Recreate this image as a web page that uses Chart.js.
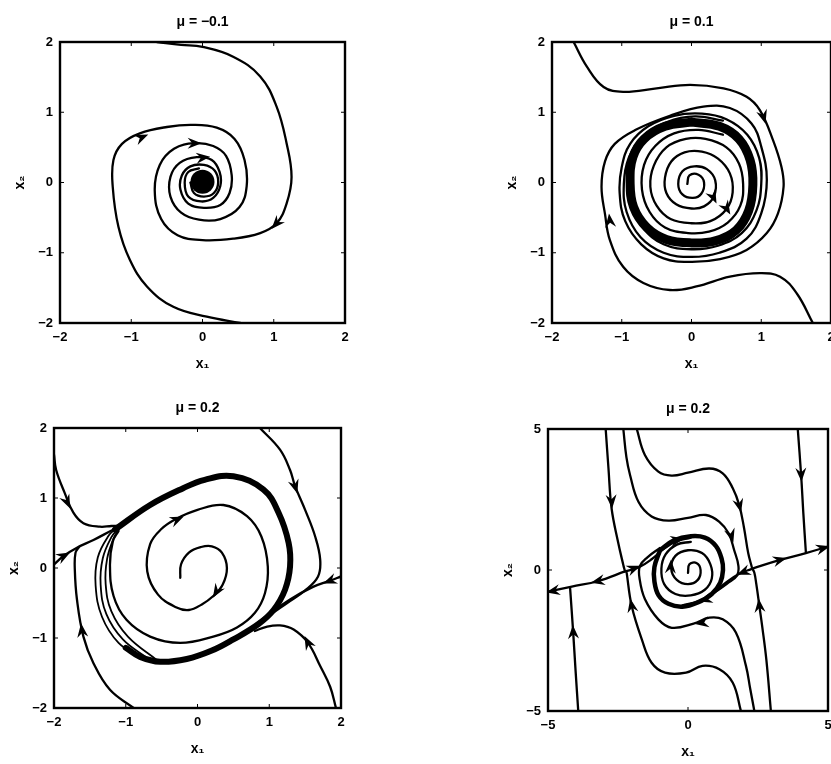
<!DOCTYPE html>
<html><head><meta charset="utf-8">
<script src="https://cdn.jsdelivr.net/npm/chart.js@4.4.1/dist/chart.umd.min.js"></script>
<style>
html,body{margin:0;padding:0;background:#fff;width:831px;height:764px;overflow:hidden;position:relative}
canvas{position:absolute}
</style></head><body>
<canvas id="c1" width="360" height="379" style="left:0px;top:0px"></canvas>
<canvas id="c2" width="354" height="379" style="left:492px;top:0px"></canvas>
<canvas id="c3" width="362" height="378" style="left:-6px;top:386px"></canvas>
<canvas id="c4" width="355" height="380" style="left:488px;top:387px"></canvas>
<script>
// ---------- tick labels ----------
const ticksSmall = [-2, -1, 0, 1, 2];
const ticksLarge = [-5, 0, 5];
const titles = ['\u03bc = \u22120.1', '\u03bc = 0.1', '\u03bc = 0.2', '\u03bc = 0.2'];

// ---------- panel 1 : mu = -0.1 ----------
const p1TrajA = [[-0.64,2.0],[-0.3,1.96],[0.0,1.93],[0.43,1.79],[0.81,1.51],[1.04,1.08],[1.18,0.56],[1.25,0.08],[1.18,-0.30],[1.04,-0.58],[0.81,-0.72],[0.43,-0.80],[0.0,-0.82],[-0.35,-0.75],[-0.58,-0.52],[-0.67,-0.12],[-0.6,0.25],[-0.4,0.48],[-0.11,0.56],[0.15,0.52],[0.33,0.38],[0.41,0.1],[0.38,-0.15],[0.25,-0.32],[0.02,-0.36],[-0.2,-0.3],[-0.31,-0.1],[-0.29,0.1],[-0.17,0.23],[0.02,0.25],[0.17,0.17],[0.22,0.0],[0.16,-0.15],[0.02,-0.2],[-0.12,-0.15],[-0.17,0.0]];
const p1TrajB = [[0.53,-2.0],[0.06,-1.91],[-0.41,-1.77],[-0.78,-1.48],[-1.02,-1.10],[-1.18,-0.63],[-1.26,-0.06],[-1.25,0.32],[-1.13,0.55],[-0.88,0.70],[-0.5,0.79],[-0.15,0.82],[0.2,0.78],[0.45,0.62],[0.59,0.32],[0.62,-0.05],[0.52,-0.35],[0.25,-0.52],[-0.05,-0.53],[-0.3,-0.43],[-0.45,-0.2],[-0.45,0.08],[-0.32,0.28],[-0.08,0.36],[0.13,0.32],[0.24,0.15],[0.25,-0.05],[0.15,-0.22],[-0.02,-0.27],[-0.2,-0.2],[-0.25,0.0],[-0.2,0.15],[-0.05,0.2]];
const p1Core = [[0.0,0.01]];
const p1Arrows = [[-0.86,0.64,1,0.45],[-0.12,0.56,1,0],[0.0,0.355,1,0.1],[1.04,-0.58,-0.7,-0.8]];

// ---------- panel 2 : mu = 0.1 ----------
const p2T1 = [[-1.69,2.0],[-1.50,1.65],[-1.26,1.36],[-0.98,1.29],[-0.50,1.34],[-0.02,1.39],[0.46,1.34],[0.79,1.22],[0.98,1.03],[1.17,0.60],[1.29,0.22],[1.32,-0.06],[1.24,-0.44],[1.08,-0.72],[0.79,-0.96],[0.41,-1.09],[-0.02,-1.13],[-0.40,-1.08],[-0.72,-0.88],[-0.95,-0.55],[-1.03,-0.15],[-1.0,0.22],[-0.88,0.55],[-0.62,0.8],[-0.25,0.95],[0.15,0.98],[0.5,0.9],[0.8,0.68],[0.97,0.35],[1.0,-0.02],[0.93,-0.4],[0.72,-0.72],[0.38,-0.9],[0.0,-0.95],[-0.4,-0.88],[-0.7,-0.64],[-0.88,-0.3],[-0.92,0.05],[-0.86,0.38],[-0.7,0.62]];
const p2T2 = [[1.74,-2.0],[1.51,-1.58],[1.27,-1.34],[0.98,-1.29],[0.55,-1.34],[0.07,-1.48],[-0.31,-1.53],[-0.69,-1.43],[-0.98,-1.20],[-1.17,-0.82],[-1.24,-0.45],[-1.29,-0.06],[-1.24,0.30],[-1.1,0.55],[-0.8,0.75],[-0.31,0.95],[0.17,1.08],[0.55,1.06],[0.86,0.84],[1.0,0.51],[1.08,0.04],[1.0,-0.44],[0.79,-0.8],[0.4,-1.0],[0.0,-1.06],[-0.4,-1.0],[-0.73,-0.78],[-0.93,-0.42],[-0.97,-0.02],[-0.9,0.35],[-0.7,0.65],[-0.35,0.86],[0.05,0.94],[0.45,0.88]];
const p2Cycle = [[0,0.86],[0.4,0.8],[0.68,0.62],[0.84,0.32],[0.88,-0.03],[0.82,-0.4],[0.64,-0.68],[0.34,-0.83],[0,-0.86],[-0.36,-0.81],[-0.64,-0.64],[-0.83,-0.35],[-0.88,0.0],[-0.84,0.36],[-0.68,0.62],[-0.38,0.8],[0,0.86]];
const p2Inner = [[-0.06,-0.02],[-0.03,0.1],[0.1,0.11],[0.18,0.0],[0.14,-0.16],[0.02,-0.22],[-0.13,-0.17],[-0.19,-0.02],[-0.13,0.16],[0.04,0.23],[0.22,0.19],[0.34,0.03],[0.32,-0.2],[0.18,-0.34],[0.0,-0.37],[-0.22,-0.31],[-0.36,-0.15],[-0.38,0.07],[-0.29,0.3],[-0.1,0.43],[0.15,0.44],[0.38,0.34],[0.55,0.13],[0.59,-0.14],[0.5,-0.38],[0.27,-0.55],[0.0,-0.58],[-0.3,-0.52],[-0.5,-0.33],[-0.59,-0.06],[-0.54,0.24],[-0.36,0.5],[-0.08,0.62],[0.2,0.62],[0.5,0.5],[0.68,0.27],[0.74,-0.02],[0.7,-0.33],[0.52,-0.57],[0.25,-0.7],[-0.05,-0.72],[-0.38,-0.64],[-0.6,-0.42],[-0.71,-0.1],[-0.68,0.25],[-0.52,0.52],[-0.25,0.7],[0.1,0.75],[0.45,0.68]];
const p2Arrows = [[1.03,0.94,0.3,-1],[-1.17,-0.55,-0.12,1],[0.31,-0.2,0.5,-1],[0.5,-0.36,0.6,-1]];

// ---------- panel 3 : mu = 0.2 (close view) ----------
const p3Band = [[-1.15,0.55],[-0.66,0.9],[-0.2,1.14],[0.1,1.26],[0.5,1.31],[0.92,1.12],[1.13,0.79],[1.27,0.36],[1.29,0.02],[1.22,-0.31],[1.06,-0.60],[0.85,-0.8],[0.5,-1.02],[0.2,-1.18],[-0.15,-1.3],[-0.52,-1.34],[-0.8,-1.27],[-1.0,-1.14]];
const p3Left1 = [[-0.8,-1.27],[-1.1,-1.07],[-1.33,-0.7],[-1.42,-0.25],[-1.39,0.15],[-1.24,0.46],[-1.12,0.58]];
const p3Left2 = [[-0.68,-1.3],[-1.04,-1.02],[-1.27,-0.66],[-1.35,-0.24],[-1.32,0.14],[-1.2,0.44],[-1.1,0.57]];
const p3Left3 = [[-0.56,-1.32],[-0.97,-0.98],[-1.2,-0.62],[-1.28,-0.23],[-1.26,0.13],[-1.17,0.42],[-1.09,0.56]];
const p3Inner = [[-0.24,-0.14],[-0.23,0.05],[-0.12,0.22],[0.05,0.3],[0.2,0.31],[0.34,0.22],[0.41,0.0],[0.35,-0.24],[0.22,-0.4],[0.06,-0.52],[-0.12,-0.6],[-0.3,-0.56],[-0.55,-0.38],[-0.7,-0.05],[-0.66,0.34],[-0.5,0.56],[-0.3,0.7],[0.0,0.83],[0.36,0.9],[0.69,0.74],[0.89,0.45],[0.98,0.02],[0.94,-0.36],[0.8,-0.64],[0.55,-0.85],[0.22,-0.98],[-0.24,-1.07],[-0.66,-0.98],[-0.99,-0.74],[-1.17,-0.4],[-1.22,0.05],[-1.18,0.38],[-1.1,0.53]];
const p3TopRight = [[0.87,2.0],[1.15,1.69],[1.29,1.40],[1.36,1.17],[1.50,0.83],[1.64,0.45],[1.71,0.12],[1.68,-0.12],[1.5,-0.32],[1.25,-0.5],[1.0,-0.68],[0.85,-0.8]];
const p3RightEdge = [[2.0,-0.12],[1.85,-0.18],[1.61,-0.27],[1.29,-0.45],[0.96,-0.69],[0.8,-0.82]];
const p3BottomRight = [[1.93,-2.0],[1.85,-1.7],[1.71,-1.40],[1.54,-1.07],[1.34,-0.88],[1.15,-0.82],[0.96,-0.84],[0.8,-0.9]];
const p3LeftTop = [[-2.0,1.62],[-1.97,1.40],[-1.85,1.07],[-1.73,0.79],[-1.59,0.64],[-1.36,0.59],[-1.2,0.6],[-1.1,0.6]];
const p3LeftEdge = [[-2.0,0.05],[-1.87,0.17],[-1.68,0.29],[-1.45,0.40],[-1.17,0.55],[-1.1,0.58]];
const p3BottomLeft = [[-0.89,-2.0],[-1.22,-1.74],[-1.45,-1.36],[-1.59,-0.98],[-1.68,-0.45],[-1.71,-0.02],[-1.7,0.22],[-1.65,0.3]];
const p3Arrows = [[1.36,1.17,0.3,-1],[-1.82,0.95,0.45,-1],[-1.87,0.17,1,0.55],[-1.61,-0.9,-0.12,1],[1.54,-1.07,-0.5,1],[1.85,-0.18,-1,-0.4],[-0.29,0.69,1,0.45],[0.27,-0.33,-0.6,-1]];

// ---------- panel 4 : mu = 0.2 (wide view) ----------
const p4LineA = [[-2.94,5],[-2.84,3.6],[-2.73,2.19],[-2.5,1.0],[-2.31,0.18],[-2.25,-0.05]];
const p4LineAm = [[2.96,-5],[2.8,-3.2],[2.65,-2.0],[2.55,-1.28],[2.44,-0.5],[2.37,-0.1],[2.3,0.05]];
const p4S1 = [[-2.31,5],[-2.2,4.0],[-2.07,3.37],[-1.77,2.42],[-1.30,1.9],[-0.70,1.75],[0.0,1.85],[0.64,1.95],[1.12,1.71],[1.45,1.3],[1.65,0.7],[1.8,0.15],[1.75,-0.2],[1.4,-0.48],[0.95,-0.8]];
const p4S1m = [[2.37,-5],[2.22,-4.2],[2.07,-3.40],[1.71,-2.22],[1.24,-1.75],[0.76,-1.69],[0.2,-1.9],[-0.58,-2.05],[-1.06,-1.75],[-1.54,-1.03],[-1.73,-0.3],[-1.72,0.14],[-1.45,0.45],[-1.0,0.78]];
const p4S2 = [[-1.83,5],[-1.54,4.08],[-1.06,3.49],[-0.59,3.35],[0.0,3.45],[0.76,3.6],[1.24,3.43],[1.60,2.90],[1.83,2.30],[2.0,1.5],[2.15,0.6],[2.28,0.1]];
const p4S2m = [[1.89,-5],[1.60,-4.0],[1.12,-3.52],[0.52,-3.40],[-0.07,-3.64],[-0.82,-3.64],[-1.30,-3.29],[-1.65,-2.46],[-2.01,-1.28],[-2.19,-0.1]];
const p4RightVert = [[3.92,5],[4.04,3.37],[4.12,2.0],[4.21,0.62]];
const p4LeftVert = [[-3.92,-5],[-4.02,-3.5],[-4.10,-2.22],[-4.21,-0.65]];
const p4RightOut = [[2.3,0.05],[3.26,0.35],[4.21,0.6],[5,0.83]];
const p4LeftOut = [[-2.25,-0.05],[-3.2,-0.39],[-4.15,-0.59],[-5,-0.77]];
const p4BranchL = [[-2.25,-0.05],[-1.75,0.1],[-1.3,0.38],[-0.9,0.72],[-0.45,1.0],[0.1,1.15]];
const p4BranchR = [[2.3,0.05],[1.8,-0.15],[1.35,-0.45],[0.9,-0.82],[0.4,-1.1],[-0.2,-1.25]];
const p4Band = [[-1.0,0.7],[-0.5,1.05],[0.1,1.2],[0.6,1.15],[1.0,0.85],[1.2,0.4],[1.25,0.0],[1.15,-0.45],[0.85,-0.85],[0.35,-1.15],[-0.2,-1.3],[-0.7,-1.2],[-1.05,-0.9],[-1.2,-0.4],[-1.2,0.1],[-1.0,0.7]];
const p4Inner = [[0.0,-0.1],[0.05,0.2],[0.3,0.25],[0.45,0.0],[0.35,-0.35],[0.0,-0.5],[-0.4,-0.35],[-0.6,0.05],[-0.45,0.5],[0.0,0.7],[0.5,0.6],[0.8,0.2],[0.85,-0.3],[0.6,-0.7],[0.1,-0.9],[-0.45,-0.85],[-0.85,-0.5],[-0.95,0.05],[-0.8,0.55],[-0.4,0.9],[0.1,1.0]];
const p4Arrows = [[-2.73,2.45,0.08,-1],[4.04,3.4,0.05,-1],[1.83,2.3,0.25,-1],[1.54,1.24,0.3,-1],[3.26,0.35,1,0.27],[4.8,0.77,1,0.27],[-3.2,-0.39,-1,-0.22],[-4.8,-0.74,-1,-0.2],[-4.1,-2.22,-0.05,1],[-2.01,-1.28,-0.2,1],[2.55,-1.28,-0.1,1],[0.52,-1.87,-1,-0.15],[2.0,-0.07,-1,-0.4],[-1.95,0.05,1,0.4],[-0.4,1.06,1,0.2],[0.64,-1.04,-1,-0.3],[-0.62,0.1,0.05,1]];

// ---------- drawing ----------
const FONT = "'Liberation Sans', Arial, 'DejaVu Sans', sans-serif";
function line(arr, w) {
  return {data: arr.map(([x, y]) => ({x, y})), showLine: true, borderColor: '#000', borderWidth: w,
          pointRadius: 0, tension: 0.4, fill: false, borderCapStyle: 'round', borderJoinStyle: 'round'};
}
function phasePlugin(arrows) {
  return {
    id: 'phase',
    afterDatasetsDraw(chart) {
      const {ctx, chartArea: a, scales: {x, y}} = chart;
      ctx.save();
      ctx.beginPath(); ctx.rect(a.left, a.top, a.right - a.left, a.bottom - a.top); ctx.clip();
      ctx.fillStyle = '#000';
      for (const [ax, ay, dx, dy] of arrows) {
        const px = x.getPixelForValue(ax), py = y.getPixelForValue(ay);
        const qx = x.getPixelForValue(ax + dx * 0.01) - px, qy = y.getPixelForValue(ay + dy * 0.01) - py;
        const n = Math.hypot(qx, qy), ux = qx / n, uy = qy / n, vx = -uy, vy = ux;
        const L = 14, W = 5.5;
        ctx.beginPath();
        ctx.moveTo(px + ux * L * 0.55, py + uy * L * 0.55);
        ctx.lineTo(px - ux * L * 0.45 + vx * W, py - uy * L * 0.45 + vy * W);
        ctx.lineTo(px - ux * L * 0.12, py - uy * L * 0.12);
        ctx.lineTo(px - ux * L * 0.45 - vx * W, py - uy * L * 0.45 - vy * W);
        ctx.closePath(); ctx.fill();
      }
      ctx.restore();
      ctx.save();
      ctx.strokeStyle = '#000';
      ctx.lineWidth = 1;
      ctx.beginPath();
      for (const t of x.ticks) {
        const p = x.getPixelForValue(t.value);
        ctx.moveTo(p, a.bottom); ctx.lineTo(p, a.bottom - 4);
        ctx.moveTo(p, a.top); ctx.lineTo(p, a.top + 4);
      }
      for (const t of y.ticks) {
        const p = y.getPixelForValue(t.value);
        ctx.moveTo(a.left, p); ctx.lineTo(a.left + 4, p);
        ctx.moveTo(a.right, p); ctx.lineTo(a.right - 4, p);
      }
      ctx.stroke();
      ctx.lineWidth = 2.4;
      ctx.strokeRect(a.left, a.top, a.right - a.left, a.bottom - a.top);
      ctx.restore();
    }
  };
}
function axis(lim, tickVals, title, isX) {
  return {
    type: 'linear', min: -lim, max: lim, position: isX ? 'bottom' : 'left',
    grid: {display: false, drawTicks: false}, border: {display: false},
    afterBuildTicks: s => { s.ticks = tickVals.map(v => ({value: v})); },
    afterFit: s => { if (isX) s.height = 56; else s.width = 60; },
    ticks: {color: '#000', padding: 7, autoSkip: false, maxRotation: 0,
            font: {family: FONT, size: 13, weight: 'bold'},
            callback: v => String(v).replace('-', '\u2212')},
    title: {display: true, text: title, color: '#000',
            font: {family: FONT, size: 14, weight: 'bold', lineHeight: 1},
            padding: isX ? {top: 0, bottom: 8} : {top: 13, bottom: 0}}
  };
}
function panel(id, lim, tickVals, title, datasets, arrows) {
  new Chart(document.getElementById(id), {
    type: 'scatter',
    data: {datasets},
    options: {
      responsive: false, animation: false, events: [],
      layout: {padding: {left: 0, right: 15, top: 0, bottom: 0}},
      plugins: {
        legend: {display: false}, tooltip: {enabled: false},
        title: {display: true, text: title, color: '#000', fullSize: false,
                font: {family: FONT, size: 14, weight: 'bold', lineHeight: 1},
                padding: {top: 15, bottom: 13}}
      },
      scales: {x: axis(lim, tickVals, 'x\u2081', true), y: axis(lim, tickVals, 'x\u2082', false)}
    },
    plugins: [phasePlugin(arrows)]
  });
}

const W = 2.3;
panel('c1', 2, ticksSmall, titles[0], [
  line(p1TrajA, W), line(p1TrajB, W),
  {data: p1Core.map(([x, y]) => ({x, y})), showLine: false, pointRadius: 12, pointBackgroundColor: '#000', pointBorderWidth: 0}
], p1Arrows);

panel('c2', 2, ticksSmall, titles[1], [
  line(p2T1, W), line(p2T2, W), line(p2Cycle, 9), line(p2Inner, W)
], p2Arrows);

panel('c3', 2, ticksSmall, titles[2], [
  line(p3Band, 6), line(p3Left1, 1.8), line(p3Left2, 1.8), line(p3Left3, 1.8), line(p3Inner, W),
  line(p3TopRight, W), line(p3RightEdge, W), line(p3BottomRight, W),
  line(p3LeftTop, W), line(p3LeftEdge, W), line(p3BottomLeft, W)
], p3Arrows);

panel('c4', 5, ticksLarge, titles[3], [
  line(p4LineA, W), line(p4LineAm, W), line(p4S1, W), line(p4S1m, W), line(p4S2, W), line(p4S2m, W),
  line(p4RightVert, W), line(p4LeftVert, W), line(p4RightOut, W), line(p4LeftOut, W),
  line(p4BranchL, W), line(p4BranchR, W), line(p4Band, 4.5), line(p4Inner, W)
], p4Arrows);
</script>
</body></html>
